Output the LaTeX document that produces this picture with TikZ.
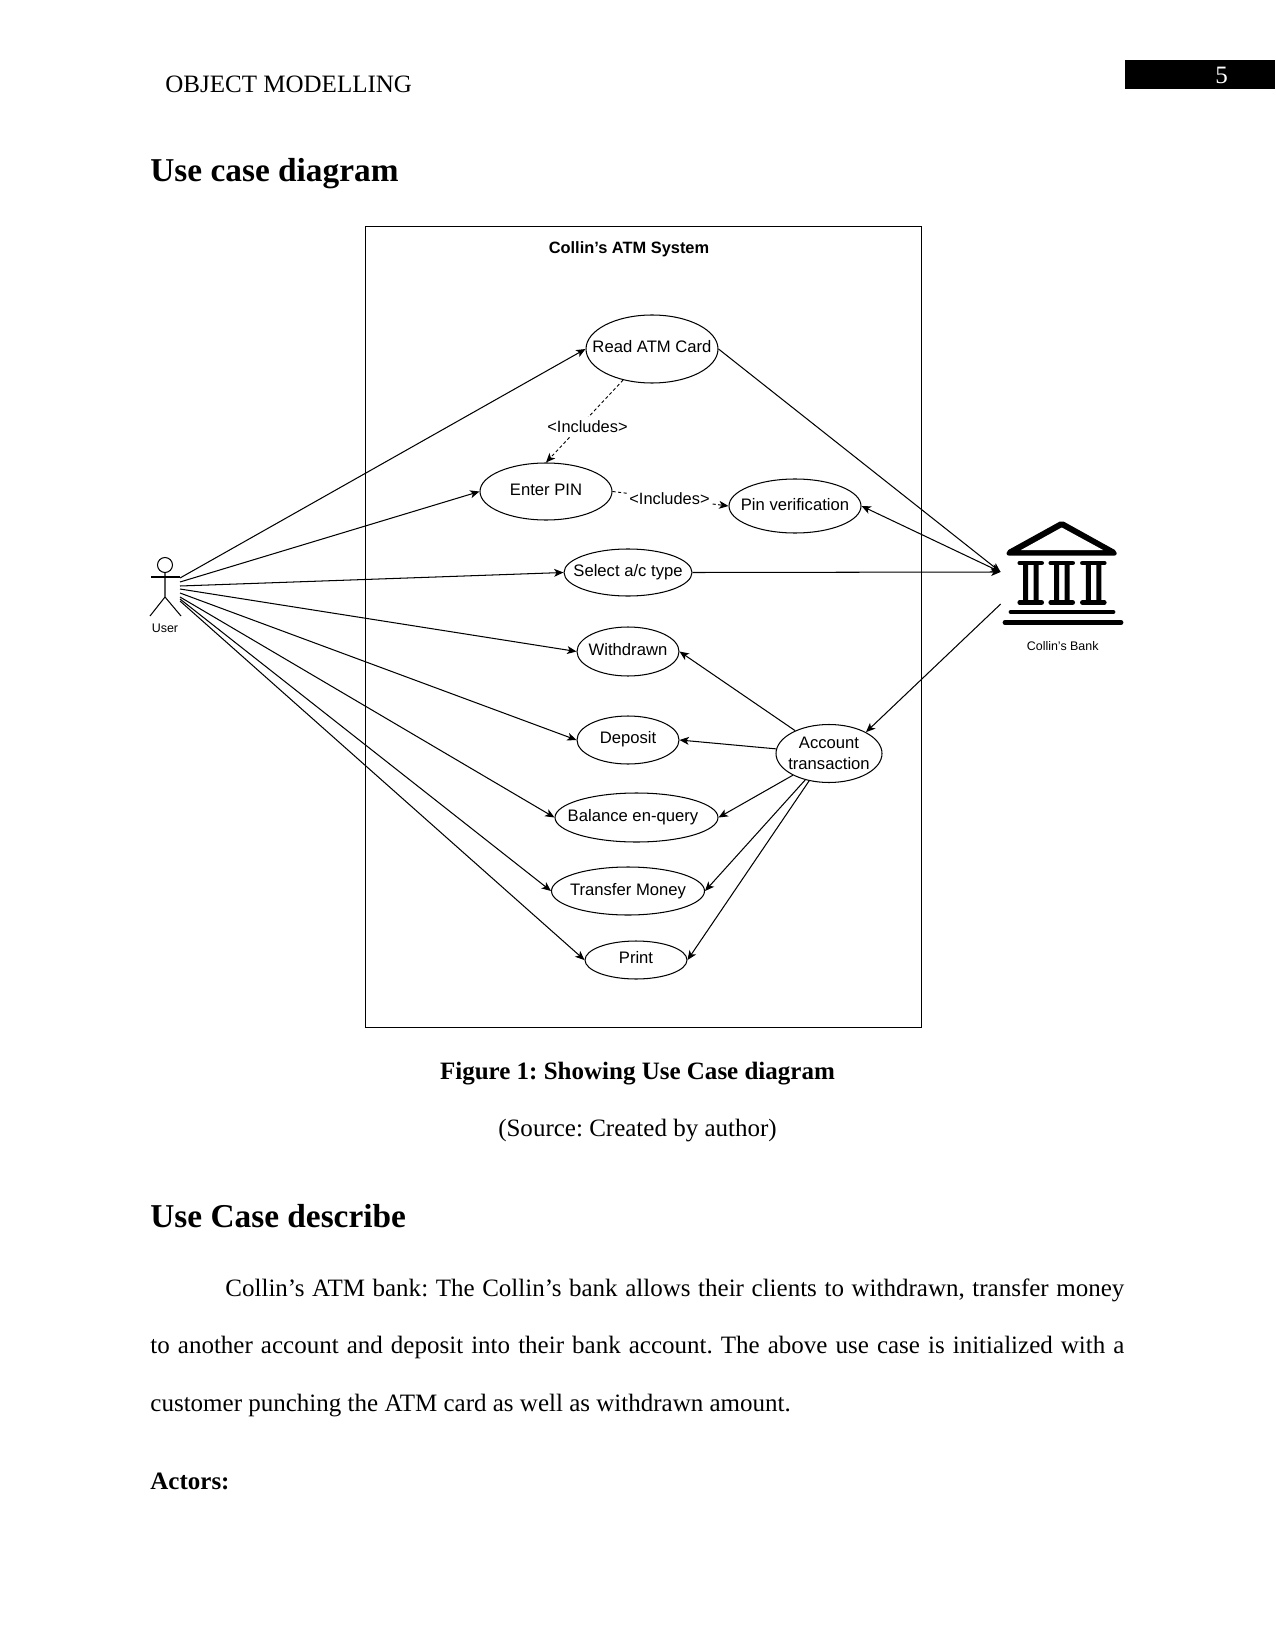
\documentclass[tikz,border=0pt]{standalone}
\usepackage{fontspec}
\setmainfont{Liberation Serif}
\setsansfont{Liberation Sans}
\usetikzlibrary{shapes.geometric,arrows.meta}
\def\px{0.4818pt}
\tikzset{
	usecase/.style n args={2}{draw, ellipse, line width=0.5pt, inner sep=-15pt, minimum width=#1*\px, minimum height=#2*\px, font=\sffamily\fontsize{8.02}{10.1}\selectfont, align=center},
	includes/.style={fill=white, inner xsep=0.5pt, inner ysep=1.5pt, font=\sffamily\fontsize{7.9}{10}\selectfont},
	actorname/.style={font=\sffamily\fontsize{6}{7}\selectfont},
	pagetext/.style={anchor=base west, inner sep=0pt, font=\fontsize{12.05}{14}\selectfont},
	pagehead/.style={anchor=base west, inner sep=0pt, font=\fontsize{16.06}{20}\selectfont\bfseries},
	assoc/.style={line width=0.5pt},
	incl/.style={line width=0.45pt, dash pattern=on 1.5pt off 1.2pt},
	bankbar/.style={line width=2.3pt, line cap=round}
}
\begin{document}
\frenchspacing
\begin{tikzpicture}[>={Stealth[length=4.5pt,width=3.8pt,inset=1.2pt]}, x=\px, y=-\px]
	\useasboundingbox (0,0) rectangle (1275,1651);
	% page header
	\node [pagetext] (header) at (165,93) {OBJECT MODELLING};
	\fill (1125,60) rectangle (1275,89);
	\node [pagetext, anchor=center, text=white] (pageno) at (1221.5,75) {5};
	\node [pagehead] (headuse) at (150,181.5) {Use case diagram};

	% system boundary
	\draw [line width=0.4pt] (365,226) rectangle (921,1027.5);
	\node [font=\sffamily\bfseries\fontsize{7.9}{10}\selectfont] (system) at (629,249) {Collin’s ATM System};

	% use cases
	\node [usecase={132}{68}, text depth=2pt] (read) at (652,349) {Read ATM Card};
	\node [usecase={132}{57}, text depth=2pt] (enter) at (546,491.5) {Enter PIN};
	\node [usecase={132}{54}, text depth=1pt] (pin) at (795,506) {Pin verification};
	\node [usecase={128}{47}] (select) at (628,572.5) {Select a/c type};
	\node [usecase={102}{49}, text depth=2pt] (withdrawn) at (628,651.5) {Withdrawn};
	\node [usecase={102}{48}, text depth=2.6pt] (deposit) at (628,740) {Deposit};
	\node [usecase={163}{49}] (balance) at (636.5,817.5) {Balance en-query\hspace*{3.4pt}};
	\node [usecase={153}{48}] (transfer) at (628,891) {Transfer Money};
	\node [usecase={102}{38}, text depth=2pt] (print) at (636,960) {Print};
	\node [usecase={106}{58}] (account) at (829,753.5) {Account\\transaction};

	% the user
	\draw [line width=0.5pt] (165,565) circle (7.5) (165,572.5) -- (165,597) -- (150,616) (165,597) -- (181,616);
	\draw [line width=0.7pt] (151,577) -- (180,577);
	\node [actorname] (user) at (165,628) {User};
	\foreach \n/\y in {1/578,2/582,3/586,4/589,5/593,6/597,7/599,8/601}
		\coordinate (user\n) at (180,\y);
	\foreach \n/\uc in {1/read,2/enter,3/select,4/withdrawn,5/deposit,6/balance,7/transfer,8/print}
		\draw [assoc, ->] (user\n) -- (\uc.west);

	% the bank
	\fill [rounded corners=1pt] (1006.5,551) -- (1061.7,520.5) -- (1116.7,551) -- (1116.7,555.5) -- (1006.5,555.5) -- cycle;
	\fill [white] (1021,550) -- (1061.7,527.5) -- (1103,550) -- cycle;
	\foreach \cx in {1030.7,1061.7,1093.3} {
		\draw [line width=2.2pt, line cap=round] (\cx-11,563) -- (\cx+11,563) (\cx-11,602.5) -- (\cx+11,602.5);
		\fill (\cx-7.5,563) rectangle (\cx-2.5,602) (\cx+3,563) rectangle (\cx+8,602);
	}
	\draw [bankbar] (1011,612) -- (1113,612);
	\draw [bankbar] (1005,622.5) -- (1121,622.5);
	\node [actorname] (bank) at (1062.7,646) {Collin’s Bank};
	\coordinate (bankin) at (1000.5,572);
	\coordinate (bankout) at (1000.7,604);

	% bank side connectors
	\draw [assoc, ->] (read.east) -- (bankin);
	\draw [assoc, <->] (pin.east) -- (bankin);
	\draw [assoc, ->] (select.east) -- (bankin);
	\draw [assoc, ->] (bankout) -- (account.30);

	% account transaction connectors
	\draw [assoc, ->] (account.146) -- (withdrawn.east);
	\draw [assoc, ->] (account.175) -- (deposit.east);
	\draw [assoc, ->] (account.211) -- (balance.east);
	\draw [assoc, ->] (account.228) -- (transfer.east);
	\draw [assoc, ->] (account.234) -- (print.east);

	% includes
	\draw [incl, ->] (read.227) -- (enter.north);
	\draw [incl, ->] (enter.east) -- (pin.west);
	\node [includes] (inclone) at (587.5,426.5) {<Includes>};
	\node [includes] (incltwo) at (669.5,498.5) {<Includes>};

	% text below the figure
	\node [pagetext, anchor=base] (caption) at (637.5,1079) {\bfseries Figure 1: Showing Use Case diagram};
	\node [pagetext, anchor=base] (source) at (637.5,1136) {(Source: Created by author)};
	\node [pagehead] (headdesc) at (150,1227) {Use Case describe};
	\node [pagetext, anchor=north west, text width=974*\px, align=justify, font=\fontsize{12.05}{27.7}\selectfont] (para) at (150,1278.2) {\hspace*{75\dimexpr\px\relax}Collin’s ATM bank: The Collin’s bank allows their clients to withdrawn, transfer money to another account and deposit into their bank account. The above use case is initialized with a customer punching the ATM card as well as withdrawn amount.};
	\node [pagetext, font=\fontsize{12.05}{14}\selectfont\bfseries] (actors) at (150,1489) {Actors:};
\end{tikzpicture}
\end{document}
